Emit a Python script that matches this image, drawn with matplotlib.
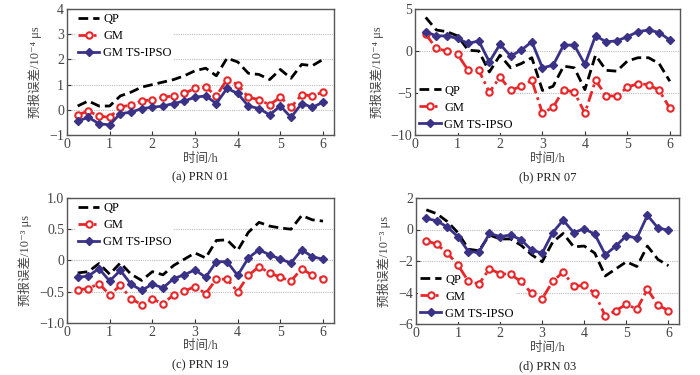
import matplotlib
matplotlib.use("Agg")
import matplotlib.pyplot as plt
import numpy as np

t = [0.25 * i for i in range(1, 25)]

# (a) PRN 01, unit 1e-4 us
a_qp = [0.15, 0.35, 0.15, 0.15, 0.55, 0.7, 0.9, 1.0, 1.1, 1.2, 1.35, 1.55,
        1.65, 1.35, 2.05, 1.9, 1.45, 1.4, 1.2, 1.6, 1.25, 1.8, 1.75, 2.0]
a_gm = [-0.2, -0.05, -0.25, -0.3, 0.1, 0.2, 0.35, 0.4, 0.5, 0.55, 0.65, 0.85,
        0.9, 0.55, 1.2, 1.0, 0.5, 0.4, 0.2, 0.5, 0.1, 0.6, 0.55, 0.7]
a_ts = [-0.45, -0.3, -0.55, -0.6, -0.15, -0.1, 0.05, 0.1, 0.15, 0.25, 0.35, 0.5,
        0.55, 0.25, 0.85, 0.65, 0.15, 0.05, -0.2, 0.15, -0.3, 0.25, 0.1, 0.3]

# (b) PRN 07, unit 1e-4 us
b_qp = [4.0, 2.5, 2.3, 1.8, 0.1, 0.0, -2.5, -0.5, -2.0, -1.5, -0.8, -4.7,
        -4.2, -1.8, -2.0, -4.6, -0.5, -2.3, -2.4, -1.2, -0.8, -0.8, -1.5, -3.6]
b_gm = [2.0, 0.3, 0.0, -0.4, -2.3, -2.3, -4.9, -3.1, -4.7, -4.2, -3.5, -7.4,
        -6.7, -4.6, -4.9, -7.4, -3.5, -5.3, -5.4, -4.3, -3.9, -4.0, -4.7, -6.8]
b_ts = [2.3, 1.8, 1.8, 1.5, 0.9, 1.2, -1.3, 0.8, -0.6, 0.1, 1.1, -2.0,
        -1.7, 0.7, 0.7, -1.6, 1.8, 1.1, 1.2, 1.7, 2.3, 2.5, 2.2, 1.3]

# (c) PRN 19, unit 1e-3 us
c_qp = [-0.2, -0.18, -0.05, -0.22, -0.04, -0.22, -0.32, -0.18, -0.23, -0.08, 0.02, 0.12,
        0.04, 0.32, 0.33, 0.16, 0.45, 0.61, 0.55, 0.52, 0.5, 0.72, 0.65, 0.63]
c_gm = [-0.47, -0.45, -0.37, -0.55, -0.4, -0.61, -0.71, -0.62, -0.69, -0.55, -0.49, -0.42,
        -0.53, -0.3, -0.3, -0.5, -0.24, -0.1, -0.2, -0.27, -0.33, -0.13, -0.24, -0.29]
c_ts = [-0.27, -0.25, -0.13, -0.33, -0.16, -0.38, -0.48, -0.38, -0.44, -0.29, -0.23, -0.15,
        -0.27, -0.02, -0.02, -0.24, 0.04, 0.17, 0.09, 0.02, -0.04, 0.17, 0.06, 0.02]

# (d) PRN 03, unit 1e-3 us
d_qp = [1.25, 1.0, 0.5, -0.2, -1.25, -1.35, -0.35, -0.6, -0.6, -1.0, -1.6, -2.05,
        -0.8, -0.25, -1.1, -1.05, -1.5, -2.95, -2.5, -2.05, -2.35, -1.05, -1.9, -2.3]
d_gm = [-0.7, -0.95, -1.5, -2.25, -3.3, -3.45, -2.5, -2.8, -2.85, -3.3, -4.05, -4.4,
        -3.3, -2.7, -3.6, -3.55, -4.05, -5.5, -5.15, -4.75, -5.05, -3.8, -4.8, -5.15]
d_ts = [0.7, 0.55, 0.15, -0.45, -1.4, -1.45, -0.25, -0.45, -0.35, -0.65, -1.3, -1.5,
        -0.2, 0.6, -0.2, 0.05, -0.3, -1.6, -1.05, -0.4, -0.55, 0.9, 0.1, -0.05]

series_names = ["QP", "GM", "GM TS-IPSO"]
titles = ["(a) PRN 01", "(b) PRN 07", "(c) PRN 19", "(d) PRN 03"]
ylabels = ["预报误差/10⁻⁴ μs", "预报误差/10⁻⁴ μs", "预报误差/10⁻³ μs", "预报误差/10⁻³ μs"]
ylims = [(-1, 4), (-10, 5), (-1.0, 1.0), (-6, 2)]
yticks = [[-1, 0, 1, 2, 3, 4], [-10, -5, 0, 5], [-1.0, -0.5, 0, 0.5, 1.0], [-6, -4, -2, 0, 2]]
yticklabels = [["−1", "0", "1", "2", "3", "4"], ["−10", "−5", "0", "5"],
               ["−1.0", "−0.5", "0", "0.5", "1.0"], ["−6", "−4", "−2", "0", "2"]]
xticks = [0, 1, 2, 3, 4, 5, 6]
legend_locs = ["upper left", "lower left", "upper left", "lower left"]
legend_anchors = [(0.025, 1.0), (0.0, 0.0), (0.025, 1.0), (0.0, 0.0)]
data = [(a_qp, a_gm, a_ts), (b_qp, b_gm, b_ts), (c_qp, c_gm, c_ts), (d_qp, d_gm, d_ts)]

FAM = ["Liberation Serif", "Noto Sans CJK SC", "DejaVu Sans"]
plt.rcParams["font.family"] = FAM
plt.rcParams["axes.unicode_minus"] = True

fig = plt.figure(figsize=(7, 3.75), dpi=100)
positions = [
    [0.0957, 0.640, 0.381, 0.336],
    [0.593, 0.640, 0.379, 0.336],
    [0.0957, 0.139, 0.381, 0.333],
    [0.594, 0.136, 0.376, 0.336],
]

RED = "#e8272b"
BLUE = "#3a3287"
SPINE = "#555555"

for i in range(4):
    ax = fig.add_axes(positions[i])
    qp, gm, ts = data[i]
    ax.plot(t, qp, color="black", linestyle=(0, (3.5, 1.8)), linewidth=2.0, label=series_names[0], zorder=3)
    ax.plot(t, gm, color=RED, linestyle=(0, (4, 1.5, 1, 1.5)), linewidth=2.0, marker="o",
            markersize=4.6, markerfacecolor="white", markeredgecolor=RED, markeredgewidth=1.5,
            label=series_names[1], zorder=4)
    ax.plot(t, ts, color=BLUE, linestyle="-", linewidth=2.0, marker="D", markersize=4.3,
            markerfacecolor=BLUE, markeredgecolor=BLUE, label=series_names[2], zorder=5)
    ax.set_xlim(0, 6.25)
    ax.set_ylim(*ylims[i])
    ax.set_xticks(xticks)
    ax.set_xticklabels([str(x) for x in xticks])
    ax.set_yticks(yticks[i])
    ax.set_yticklabels(yticklabels[i])
    ax.tick_params(direction="in", length=3, width=0.8, labelsize=10, colors="#333333",
                   labelcolor="#444444", pad=2)
    ax.yaxis.grid(True, color="#bbbbbb", linestyle=(0, (1, 1)), linewidth=0.8, zorder=0)
    ax.set_axisbelow(True)
    for s in ax.spines.values():
        s.set_color(SPINE)
        s.set_linewidth(1.0)
    ax.set_ylabel(ylabels[i], fontsize=9, color="#444444", labelpad=5)
    ax.text(0.5, -0.14, "时间/h", transform=ax.transAxes, ha="center", va="top",
            fontsize=9, color="#444444")
    ax.text(0.5, -0.29, titles[i], transform=ax.transAxes, ha="center", va="top",
            fontsize=9, color="#222222")
    leg = ax.legend(loc=legend_locs[i], bbox_to_anchor=legend_anchors[i], frameon=True,
                    fancybox=False, fontsize=9,
                    handlelength=1.7, handletextpad=0.3, labelspacing=0.4,
                    borderpad=0.15, borderaxespad=0.2)
    leg.get_frame().set_edgecolor("none")
    leg.get_frame().set_facecolor("white")
    leg.get_frame().set_alpha(1.0)
    leg.set_zorder(2)

fig.savefig("out.png", dpi=100)
